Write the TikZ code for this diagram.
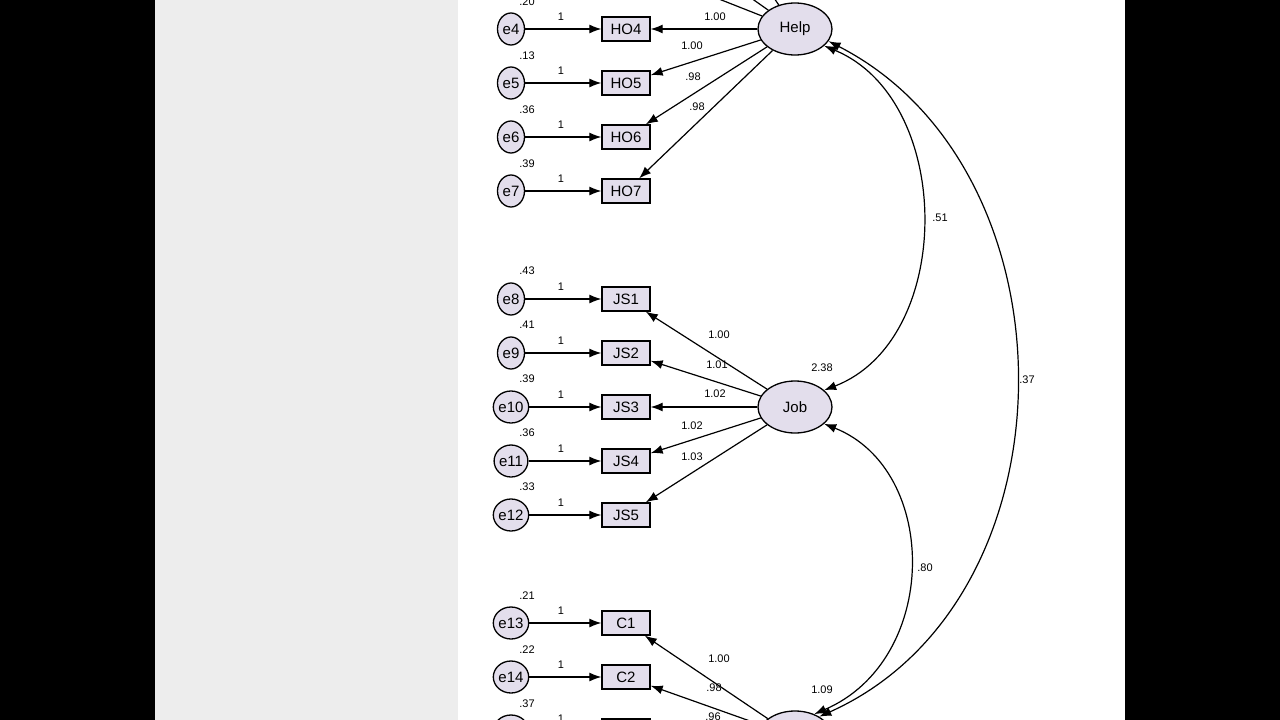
\documentclass[tikz,border=0pt]{standalone}
\usepackage{fontspec}
\setmainfont{Liberation Sans}
\usetikzlibrary{arrows.meta,shapes.geometric}
\definecolor{fillc}{HTML}{E3DEEC}
\begin{document}
\begin{tikzpicture}[x=1pt,y=-1pt,
  err/.style={draw,line width=1.3pt,ellipse,fill=fillc,minimum width=27pt,minimum height=32pt,inner sep=0pt,font=\fontsize{15}{15}\selectfont},
  obs/.style={draw,line width=1.3pt,rectangle,fill=fillc,minimum width=48pt,minimum height=24pt,inner sep=0pt,font=\fontsize{15}{15}\selectfont},
  lat/.style={draw,line width=1.3pt,ellipse,fill=fillc,minimum width=74pt,minimum height=52pt,inner sep=0pt,font=\fontsize{15}{15}\selectfont},
  lab/.style={font=\fontsize{11}{11}\selectfont,inner sep=0pt},
  arr/.style={-{Latex[length=12pt,width=9pt]},line width=1.2pt},
  cov/.style={{Latex[length=12pt,width=9pt]}-{Latex[length=12pt,width=9pt]},line width=1.2pt}]
\useasboundingbox (0,0) rectangle (1280,720);
\fill[black] (0,0) rectangle (1280,720);
\fill[black!7] (155,0) rectangle (458,720);
\fill[white] (458,0) rectangle (1125,720);
\begin{scope}
\clip (458,0) rectangle (1125,720);
% latents
\node[lat] (help) at (795,29) {Help};
\node[lat] (job) at (795,407) {Job};
\node[lat] (com) at (795,737) {};
% Help block
\foreach \i/\y/\v in {4/29/.20,5/83/.13,6/137/.36,7/191/.39}{
  \node[err] (e\i) at (511,\y) {e\i};
  \node[obs] (HO\i) at (626,\y) {HO\i};
  \draw[arr] (e\i) -- (HO\i);
  \node[lab] (v\i) at (527,\y-27) {\v};
  \node[lab] (o\i) at (561,\y-12) {1};
  \draw[arr] (help) -- (HO\i);
}
\coordinate (h1) at (620,-40);
\coordinate (h2) at (690,-45);
\coordinate (h3) at (745,-45);
\draw[arr] (help) -- (h1);
\draw[arr] (help) -- (h2);
\draw[arr] (help) -- (h3);
\node[lab] (l4) at (715,17) {1.00};
\node[lab] (l5) at (692,46) {1.00};
\node[lab] (l6) at (693,77) {.98};
\node[lab] (l7) at (697,107) {.98};
% Job block
\foreach \i/\n/\y/\v in {8/1/299/.43,9/2/353/.41,10/3/407/.39,11/4/461/.36,12/5/515/.33}{
  \node[err] (e\i) at (511,\y) {e\i};
  \node[obs] (JS\n) at (626,\y) {JS\n};
  \draw[arr] (e\i) -- (JS\n);
  \node[lab] (v\i) at (527,\y-28) {\v};
  \node[lab] (o\i) at (561,\y-12) {1};
  \draw[arr] (job) -- (JS\n);
}
\node[lab] (j1) at (719,335) {1.00};
\node[lab] (j2) at (717,365) {1.01};
\node[lab] (j3) at (715,394) {1.02};
\node[lab] (j4) at (692,426) {1.02};
\node[lab] (j5) at (692,457) {1.03};
\node[lab] (jv) at (822,368) {2.38};
% C block
\foreach \i/\n/\y/\v in {13/1/623/.21,14/2/677/.22,15/3/731/.37}{
  \node[err] (e\i) at (511,\y) {e\i};
  \node[obs] (C\n) at (626,\y) {C\n};
  \draw[arr] (e\i) -- (C\n);
  \node[lab] (v\i) at (527,\y-27) {\v};
  \node[lab] (o\i) at (561,\y-12) {1};
  \draw[arr] (com) -- (C\n);
}
\node[lab] (c1) at (719,659) {1.00};
\node[lab] (c2) at (714,688) {.98};
\node[lab] (c3) at (713,717) {.96};
\node[lab] (cv) at (822,690) {1.09};
% covariances
\draw[cov] (help.-30) .. controls (955,100) and (955,340) .. (job.30);
\draw[cov] (help.-20) .. controls (1080,170) and (1080,600) .. (com.40);
\draw[cov] (job.-30) .. controls (940,470) and (940,660) .. (com.50);
\node[lab] (k1) at (940,218) {.51};
\node[lab] (k2) at (1027,380) {.37};
\node[lab] (k3) at (925,568) {.80};
\end{scope}
\end{tikzpicture}
\end{document}
